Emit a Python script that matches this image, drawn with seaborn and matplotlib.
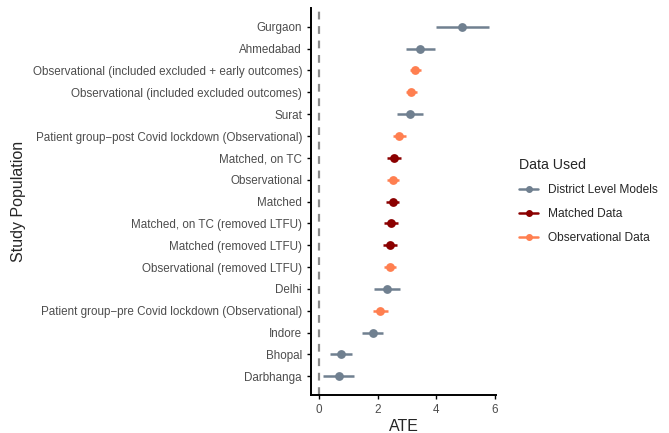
import pandas as pd
import matplotlib.pyplot as plt
import seaborn as sns
from matplotlib.lines import Line2D

populations = [
    'Gurgaon', 'Ahmedabad',
    'Observational (included excluded + early outcomes)',
    'Observational (included excluded outcomes)',
    'Surat',
    'Patient group\u2212post Covid lockdown (Observational)',
    'Matched, on TC', 'Observational', 'Matched',
    'Matched, on TC (removed LTFU)', 'Matched (removed LTFU)',
    'Observational (removed LTFU)', 'Delhi',
    'Patient group\u2212pre Covid lockdown (Observational)',
    'Indore', 'Bhopal', 'Darbhanga',
]
data_used = [
    'District Level Models', 'District Level Models',
    'Observational Data', 'Observational Data',
    'District Level Models', 'Observational Data',
    'Matched Data', 'Observational Data', 'Matched Data',
    'Matched Data', 'Matched Data', 'Observational Data',
    'District Level Models', 'Observational Data',
    'District Level Models', 'District Level Models', 'District Level Models',
]
ate = [4.89, 3.44, 3.29, 3.15, 3.09, 2.74, 2.56, 2.54, 2.51, 2.45, 2.41, 2.41,
       2.31, 2.09, 1.83, 0.75, 0.67]
lower = [3.98, 2.95, 3.12, 2.98, 2.66, 2.51, 2.33, 2.33, 2.29, 2.20, 2.19, 2.22,
         1.87, 1.84, 1.46, 0.39, 0.13]
upper = [5.80, 3.95, 3.49, 3.35, 3.53, 2.97, 2.78, 2.74, 2.74, 2.69, 2.65, 2.62,
         2.75, 2.34, 2.19, 1.12, 1.21]

groups = ['District Level Models', 'Matched Data', 'Observational Data']
colors = {'District Level Models': '#708090',
          'Matched Data': '#8B0000',
          'Observational Data': '#FF7F50'}

df = pd.DataFrame({'population': populations, 'data': data_used,
                   'ate': ate, 'lower': lower, 'upper': upper})

sns.set_style('ticks')
plt.rcParams['font.family'] = ['Liberation Sans', 'DejaVu Sans']

fig = plt.figure(figsize=(6.69, 4.33), dpi=100)
ax = fig.add_axes([0.465, 0.088, 0.277, 0.894])

# dashed reference line at zero
ax.axvline(0, color='#8c8c8c', linestyle=(0, (3.5, 3)), linewidth=1.6, zorder=1)

# confidence intervals
for i, row in df.iterrows():
    ax.hlines(i, row['lower'], row['upper'], color=colors[row['data']],
              linewidth=1.8, zorder=2)

sns.pointplot(data=df, x='ate', y='population', hue='data', order=populations,
              hue_order=groups, palette=colors, linestyle='none', marker='o',
              markersize=4.3, errorbar=None, dodge=False, legend=False, ax=ax,
              zorder=3)

ax.set_xlim(-0.27, 6.05)
ax.set_ylim(len(populations) - 1 + 0.85, -0.87)
ax.set_xticks([0, 2, 4, 6])
ax.set_xlabel('ATE', fontsize=11.5, labelpad=2)
ax.set_ylabel('Study Population', fontsize=11.5, labelpad=5)
ax.tick_params(axis='both', labelsize=8.4, colors='black', labelcolor='#4D4D4D',
               length=3, width=1)
for side in ['top', 'right']:
    ax.spines[side].set_visible(False)
for side in ['left', 'bottom']:
    ax.spines[side].set_linewidth(1.4)
    ax.spines[side].set_color('black')

handles = [Line2D([0], [0], color=colors[g], marker='o', markersize=4,
                  linewidth=1.8) for g in groups]
fig.legend(handles, groups, title='Data Used', loc='upper left',
           bbox_to_anchor=(0.76, 0.66), frameon=False, fontsize=8.6,
           title_fontsize=10.2, alignment='left', handlelength=1.6,
           labelspacing=1.0)

fig.savefig('out.png', dpi=100)
